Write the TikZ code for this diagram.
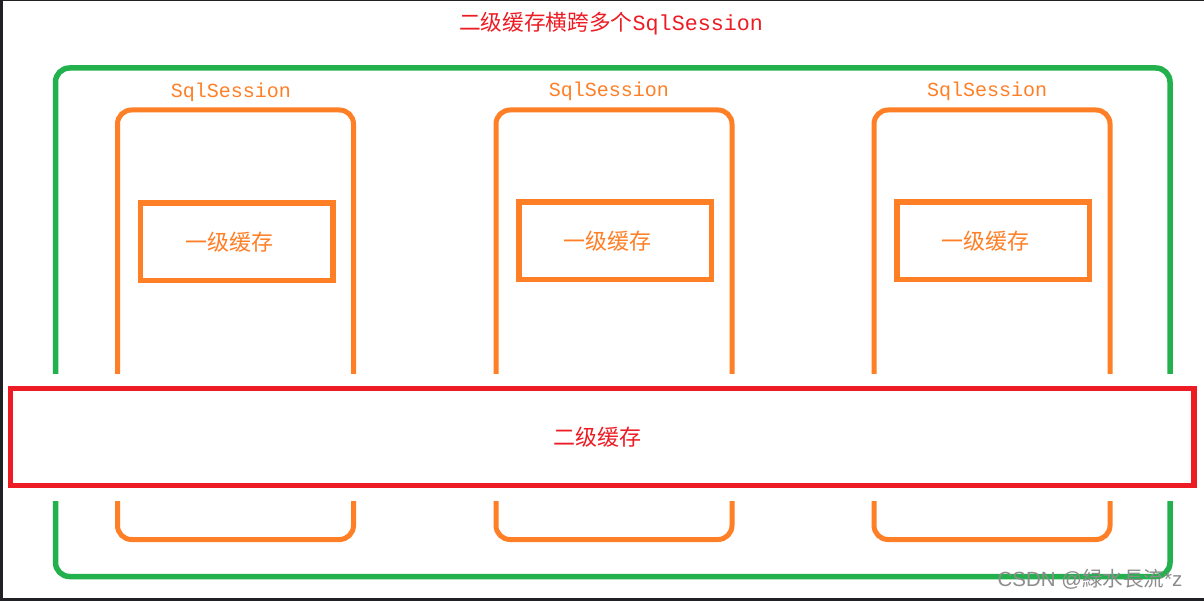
\documentclass[tikz,border=0pt]{standalone}
\usepackage{fontspec}
\newfontfamily\cjk{Noto Sans CJK SC}
\newfontfamily\mono{Liberation Mono}
\newfontfamily\wm{Liberation Sans}
\definecolor{pgreen}{HTML}{22B14C}
\definecolor{porange}{HTML}{FF7F27}
\definecolor{pred}{HTML}{ED1C24}
\definecolor{frame}{HTML}{202124}
\tikzset{
  greenbox/.style={draw=pgreen, line width=5.5pt, rounded corners=14pt},
  sessbox/.style={draw=porange, line width=5pt, rounded corners=14pt},
  l1box/.style={draw=porange, line width=5.5pt},
  l2box/.style={draw=pred, line width=5.5pt, fill=white},
  sesslabel/.style={text=porange, font=\mono\fontsize{20}{22}\selectfont, inner sep=0pt},
  l1label/.style={text=porange, font=\cjk\fontsize{22}{24}\selectfont, inner sep=0pt},
  l2label/.style={text=pred, font=\cjk\fontsize{22}{24}\selectfont, inner sep=0pt},
  titlelabel/.style={text=pred, inner sep=0pt},
  wmlabel/.style={text=black!45, inner sep=0pt}
}
\begin{document}
\begin{tikzpicture}[x=1pt,y=-1pt]
\useasboundingbox (0,0) rectangle (1204,601);
\fill[white] (0,0) rectangle (1204,601);
% dark screenshot frame
\fill[frame] (0,0) rectangle (3,601);
\fill[frame] (0,0) rectangle (1204,1);
\fill[frame] (0,598) rectangle (1204,601);
% title
\node[titlelabel] (title) at (611,24) {\cjk\fontsize{21.7}{24}\selectfont 二级缓存横跨多个\mono SqlSession};
% outer green box
\draw[greenbox] (55.5,68) rectangle (1170,576.5);
% session boxes
\draw[sessbox] (117.5,110) rectangle (353.5,539.5);
\draw[sessbox] (496,110) rectangle (732,539.5);
\draw[sessbox] (874,110) rectangle (1110,539.5);
\node[sesslabel] (s1) at (231,92) {SqlSession};
\node[sesslabel] (s2) at (609,91) {SqlSession};
\node[sesslabel] (s3) at (987,91) {SqlSession};
% level one caches
\draw[l1box] (140.5,203) rectangle (333,280.5);
\draw[l1box] (519,202) rectangle (711.5,279.5);
\draw[l1box] (897,202) rectangle (1089.5,279.5);
\node[l1label] (c1) at (229,242) {一级缓存};
\node[l1label] (c2) at (607,241) {一级缓存};
\node[l1label] (c3) at (985,241) {一级缓存};
% gap band and level two cache
\fill[white] (20,374) rectangle (1190,501);
\draw[l2box] (10.5,388.5) rectangle (1194,485.5);
\node[l2label] (l2) at (597,437) {二级缓存};
% watermark
\node[wmlabel] (wm) at (1090,579) {\wm\fontsize{20.5}{22}\selectfont CSDN @\cjk 緑水長流\wm *z};
\end{tikzpicture}
\end{document}
